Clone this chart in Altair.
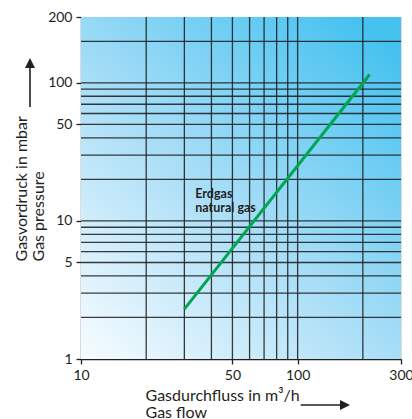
import altair as alt
import pandas as pd

# ---- data ----
x_grid = [20, 30, 40, 50, 60, 70, 80, 90, 100, 200]
y_grid = [2, 3, 4, 5, 6, 7, 8, 9, 10, 20, 30, 40, 50, 60, 70, 80, 90, 100, 200]
x_tick_values = [10, 50, 100, 300]
y_tick_values = [1, 5, 10, 50, 100, 300]
y_tick_labels = ["1", "5", "10", "50", "100", "200"]
gas_flow = [30, 215]
gas_pressure = [2.3, 115]
series_label = ["Erdgas\nnatural gas"]
label_x = [33.7]
label_y = [14.7]
x_domain = [10, 300]
y_domain = [1, 300]

FONT = "Lato"
INK = "#231f20"

xscale = alt.Scale(type="log", domain=x_domain, nice=False)
yscale = alt.Scale(type="log", domain=y_domain, nice=False)

ylabel_expr = "".join(
    f"datum.value == {v} ? '{l}' : " for v, l in zip(y_tick_values, y_tick_labels)
) + "''"

common_axis = dict(
    grid=False, tickSize=5, labelPadding=4, labelFlush=False,
    labelFont=FONT, labelFontSize=14, labelColor=INK,
    titleFont=FONT, titleFontSize=16, titleFontWeight="normal", titleColor=INK,
    domainColor=INK, domainWidth=1.3, tickColor=INK, tickWidth=1.3,
)

xaxis = alt.Axis(
    values=x_tick_values, format="d",
    title=["Gasdurchfluss in m³/h", "Gas flow"], titleX=64, titleY=41,
    titleAlign="left", titleBaseline="alphabetic", titleLineHeight=17,
    **common_axis,
)
yaxis = alt.Axis(
    values=y_tick_values, labelExpr=ylabel_expr,
    title=["Gasvordruck in mbar", "Gas pressure"], titleX=-55, titleY=244,
    titleAngle=270, titleAlign="left", titleBaseline="alphabetic", titleLineHeight=17.5,
    **common_axis,
)


def X(field="x"):
    return alt.X(f"{field}:Q", scale=xscale, axis=xaxis)


def Y(field="y"):
    return alt.Y(f"{field}:Q", scale=yscale, axis=yaxis)


bg_df = pd.DataFrame({"x": [x_domain[0]], "x2": [x_domain[1]], "y": [y_domain[0]], "y2": [y_domain[1]]})
background = alt.Chart(bg_df).mark_rect(
    fill=alt.Gradient(
        gradient="linear",
        stops=[
            alt.GradientStop(color="#f8fcff", offset=0),
            alt.GradientStop(color="#a6ddf7", offset=0.5),
            alt.GradientStop(color="#46c2f0", offset=1),
        ],
        x1=0, y1=1, x2=0.85, y2=0,
    )
).encode(x=X(), x2="x2:Q", y=Y(), y2="y2:Q")

vgrid = alt.Chart(pd.DataFrame({"x": x_grid})).mark_rule(
    color="#1a1a1a", strokeWidth=1.3, opacity=0.85
).encode(x=X())

hgrid = alt.Chart(pd.DataFrame({"y": y_grid})).mark_rule(
    color="#1a1a1a", strokeWidth=1.3, opacity=0.85
).encode(y=Y())

line = alt.Chart(pd.DataFrame({"x": gas_flow, "y": gas_pressure})).mark_line(
    color="#00a651", strokeWidth=3
).encode(x=X(), y=Y())

label = alt.Chart(pd.DataFrame({"x": label_x, "y": label_y, "t": series_label})).mark_text(
    align="left", baseline="alphabetic", font=FONT, fontSize=12.5, fontWeight="bold",
    color=INK, lineBreak="\n", lineHeight=14,
).encode(x=X(), y=Y(), text="t:N")

dummy = pd.DataFrame({"a": [0]})
up_line = alt.Chart(dummy).mark_rule(color=INK, strokeWidth=1.6).encode(
    x=alt.value(-51), y=alt.value(51), y2=alt.value(90)
)
up_head = alt.Chart(dummy).mark_point(
    shape="M0,-2L1,0L-1,0Z", size=100, filled=True, color=INK, opacity=1, strokeWidth=0
).encode(x=alt.value(-51), y=alt.value(51))
right_line = alt.Chart(dummy).mark_rule(color=INK, strokeWidth=1.6).encode(
    x=alt.value(219.7), x2=alt.value(260), y=alt.value(388)
)
right_head = alt.Chart(dummy).mark_point(
    shape="M2,0L0,-1L0,1Z", size=100, filled=True, color=INK, opacity=1, strokeWidth=0
).encode(x=alt.value(259), y=alt.value(388))

chart = alt.layer(
    background, vgrid, hgrid, line, label, up_line, up_head, right_line, right_head
).properties(
    width=320, height=342,
    autosize=alt.AutoSizeParams(type="none"),
    padding={"left": 81, "top": 17, "right": 11, "bottom": 60},
).configure_view(
    stroke="#333333", strokeWidth=1.2
).configure(background="white")

chart.save("out.html", embed_options={"renderer": "svg", "actions": False})
